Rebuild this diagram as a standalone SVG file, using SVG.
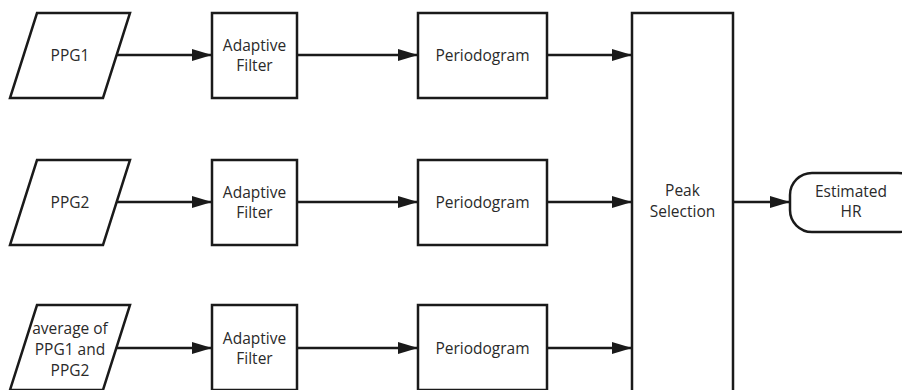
<svg xmlns="http://www.w3.org/2000/svg" width="902" height="390" viewBox="0 0 902 390">
<defs>
<marker id="ah" markerWidth="20" markerHeight="12" refX="20" refY="6" orient="auto" markerUnits="userSpaceOnUse">
<path d="M0,0 L20,6 L0,12 Z" fill="#1a1a1a"/>
</marker>
<style>
.s{fill:#fff;stroke:#1a1a1a;stroke-width:2.5}
.t{font-family:"Open Sans","Noto Sans",sans-serif;font-size:15.5px;fill:#2a2a2a;text-anchor:middle}
.c{fill:none;stroke:#1a1a1a;stroke-width:2.5}
</style>
</defs>
<rect width="902" height="390" fill="#fff"/>
<g id="ppg1"><polygon class="s" points="37,13 130,13 103,98 10,98"/><text class="t" x="70" y="61">PPG1</text></g>
<g id="ppg2"><polygon class="s" points="37,160 130,160 103,245 10,245"/><text class="t" x="70" y="208">PPG2</text></g>
<g id="avg"><polygon class="s" points="37,305 130,305 103,390 10,390"/><text class="t" x="70" y="334">average of</text><text class="t" x="70" y="355">PPG1 and</text><text class="t" x="70" y="376">PPG2</text></g>
<g id="af1"><rect class="s" x="212" y="13" width="85" height="85"/><text class="t" x="254.5" y="51">Adaptive</text><text class="t" x="254.5" y="71">Filter</text></g>
<g id="af2"><rect class="s" x="212" y="160" width="85" height="85"/><text class="t" x="254.5" y="198">Adaptive</text><text class="t" x="254.5" y="218">Filter</text></g>
<g id="af3"><rect class="s" x="212" y="305" width="85" height="85"/><text class="t" x="254.5" y="344">Adaptive</text><text class="t" x="254.5" y="364">Filter</text></g>
<g id="pg1"><rect class="s" x="418" y="13" width="129" height="85"/><text class="t" x="482.5" y="61">Periodogram</text></g>
<g id="pg2"><rect class="s" x="418" y="160" width="129" height="85"/><text class="t" x="482.5" y="208">Periodogram</text></g>
<g id="pg3"><rect class="s" x="418" y="305" width="129" height="85"/><text class="t" x="482.5" y="354">Periodogram</text></g>
<g id="peak"><rect class="s" x="632" y="13" width="101" height="390"/><text class="t" x="682.5" y="196">Peak</text><text class="t" x="682.5" y="217">Selection</text></g>
<g id="hr"><rect class="s" x="790" y="173" width="130" height="59" rx="22"/><text class="t" x="851" y="197">Estimated</text><text class="t" x="851" y="217">HR</text></g>
<g id="connectors">
<line class="c" x1="117" y1="55" x2="212" y2="55" marker-end="url(#ah)"/>
<line class="c" x1="117" y1="202" x2="212" y2="202" marker-end="url(#ah)"/>
<line class="c" x1="117" y1="348" x2="212" y2="348" marker-end="url(#ah)"/>
<line class="c" x1="297" y1="55" x2="418" y2="55" marker-end="url(#ah)"/>
<line class="c" x1="297" y1="202" x2="418" y2="202" marker-end="url(#ah)"/>
<line class="c" x1="297" y1="348" x2="418" y2="348" marker-end="url(#ah)"/>
<line class="c" x1="547" y1="55" x2="632" y2="55" marker-end="url(#ah)"/>
<line class="c" x1="547" y1="202" x2="632" y2="202" marker-end="url(#ah)"/>
<line class="c" x1="547" y1="348" x2="632" y2="348" marker-end="url(#ah)"/>
<line class="c" x1="733" y1="202" x2="790" y2="202" marker-end="url(#ah)"/>
</g>
</svg>
